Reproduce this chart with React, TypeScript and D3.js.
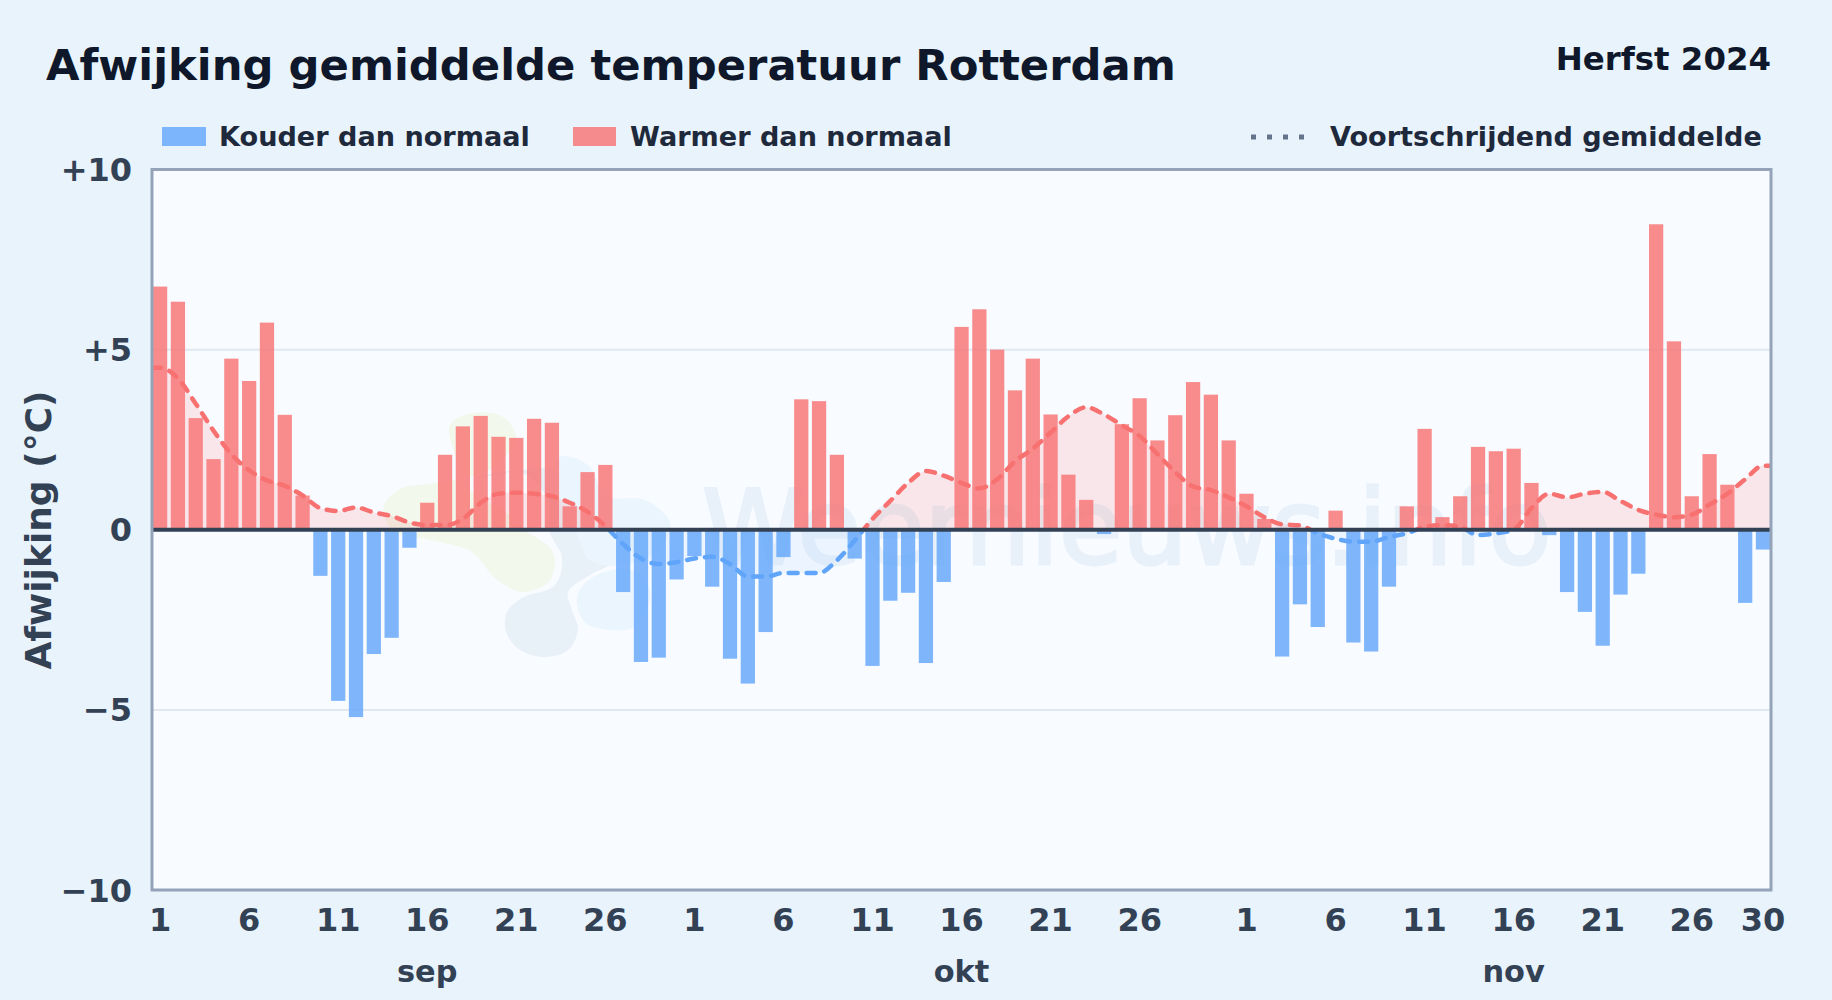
import React from "react";
import * as d3 from "d3";

const title = "Afwijking gemiddelde temperatuur Rotterdam";
const seasonLabel = "Herfst 2024";
const yLabel = "Afwijking (°C)";
const watermark = "Weernieuws.info";

const months = [
  { name: "sep", days: 30 },
  { name: "okt", days: 31 },
  { name: "nov", days: 30 },
];

const sepValues = [6.75, 6.33, 3.1, 1.96, 4.75, 4.13, 5.75, 3.19, 0.95, -1.28, -4.75, -5.2, -3.45, -3.0, -0.5, 0.75, 2.08, 2.87, 3.16, 2.58, 2.55, 3.08, 2.97, 0.65, 1.6, 1.8, -1.73, -3.67, -3.55, -1.38];
const oktValues = [-0.73, -1.58, -3.58, -4.27, -2.84, -0.76, 3.62, 3.57, 2.08, -0.8, -3.78, -1.97, -1.75, -3.7, -1.45, 5.63, 6.12, 5.0, 3.87, 4.75, 3.2, 1.53, 0.83, -0.12, 2.93, 3.65, 2.48, 3.18, 4.1, 3.75, 2.48];
const novValues = [1.0, 0.3, -3.52, -2.07, -2.7, 0.53, -3.13, -3.38, -1.58, 0.65, 2.8, 0.35, 0.93, 2.3, 2.18, 2.25, 1.3, -0.15, -1.73, -2.28, -3.22, -1.8, -1.22, 8.48, 5.23, 0.93, 2.1, 1.25, -2.03, -0.55];

const sepAvg = [4.5, 4.2, 3.5, 2.75, 2.1, 1.65, 1.37, 1.22, 0.95, 0.6, 0.52, 0.62, 0.48, 0.38, 0.2, 0.13, 0.13, 0.3, 0.75, 1.0, 1.03, 1.0, 0.93, 0.75, 0.5, 0.1, -0.4, -0.8, -0.95, -0.9];
const oktAvg = [-0.8, -0.75, -0.95, -1.3, -1.3, -1.2, -1.2, -1.2, -0.85, -0.3, 0.3, 0.8, 1.3, 1.63, 1.5, 1.3, 1.15, 1.4, 1.9, 2.25, 2.7, 3.15, 3.4, 3.2, 2.9, 2.6, 2.1, 1.6, 1.2, 1.1, 0.9];
const novAvg = [0.65, 0.35, 0.15, 0.12, -0.1, -0.25, -0.33, -0.33, -0.2, -0.1, 0.08, 0.13, 0.08, -0.15, -0.1, 0.0, 0.6, 1.0, 0.9, 1.0, 1.05, 0.8, 0.55, 0.42, 0.35, 0.42, 0.7, 1.0, 1.4, 1.78];

const values = [...sepValues, ...oktValues, ...novValues];
const averages = [...sepAvg, ...oktAvg, ...novAvg];

const yTicks = [10, 5, 0, -5, -10];
const dayTicks = [1, 6, 11, 16, 21, 26];
const legendCold = "Kouder dan normaal";
const legendWarm = "Warmer dan normaal";
const legendAvg = "Voortschrijdend gemiddelde";

const FONT = "'DejaVu Sans', sans-serif";
const W = 1832, H = 1000;
const L = 152, R = 1771, T = 169.5, B = 890;

const x = d3.scaleBand<number>().domain(d3.range(values.length)).range([151.2, 1771.9]).paddingInner(0.2).paddingOuter(0.1);
const y = d3.scaleLinear().domain([-10, 10]).range([B, T]);
const cx = (i: number) => (x(i) as number) + x.bandwidth() / 2;

const fmt = (v: number) => (v > 0 ? `+${v}` : v < 0 ? `\u2212${-v}` : "0");

type Pt = [number, number];
const avgPts: Pt[] = [
  [L, averages[0]],
  ...averages.map((v, i) => [cx(i), v] as Pt),
  [R, averages[averages.length - 1]],
];
const line = d3.line<Pt>().x((d) => d[0]).y((d) => y(d[1])).curve(d3.curveMonotoneX);
const area = d3.area<Pt>().x((d) => d[0]).y0(y(0)).y1((d) => y(d[1])).curve(d3.curveMonotoneX);

const blob = d3.line<Pt>().curve(d3.curveCatmullRomClosed.alpha(0.5));
const greenBlob: Pt[] = [[450, 425], [472, 413], [503, 417], [516, 438], [490, 470], [440, 482], [398, 490], [383, 510], [395, 532], [430, 540], [472, 552], [495, 578], [522, 592], [550, 580], [553, 552], [525, 530], [510, 515], [470, 490], [455, 455]];
const greyBlob: Pt[] = [[470, 480], [520, 472], [548, 500], [550, 533], [562, 557], [555, 585], [522, 598], [507, 612], [506, 632], [520, 650], [545, 657], [568, 650], [578, 630], [572, 610], [568, 592], [590, 575], [612, 562], [618, 530], [590, 500], [560, 470]];
const lightBlobTop: Pt[] = [[560, 457], [588, 465], [606, 496], [645, 500], [670, 523], [660, 548], [625, 565], [590, 560], [575, 530], [555, 490]];
const lightBlobBottom: Pt[] = [[593, 577], [630, 570], [650, 590], [636, 626], [610, 630], [585, 622], [577, 597]];

export default function App() {
  let start = 0;
  const monthStarts = months.map((m) => {
    const s = start;
    start += m.days;
    return s;
  });
  return (
    <svg width={W} height={H} viewBox={`0 0 ${W} ${H}`} style={{ position: "absolute", left: 0, top: 0, fontFamily: FONT }}>
      <defs>
        <clipPath id="plot"><rect x={L} y={T} width={R - L} height={B - T} /></clipPath>
        <clipPath id="above"><rect x={L} y={T} width={R - L} height={y(0) - T} /></clipPath>
        <clipPath id="below"><rect x={L} y={y(0)} width={R - L} height={B - y(0)} /></clipPath>
      </defs>
      <rect width={W} height={H} fill="#e8f3fc" />

      <text x={46} y={80} fontSize={43.3} fontWeight={700} fill="#0f172a">{title}</text>
      <text x={1771} y={70} fontSize={32.4} fontWeight={700} fill="#0f172a" textAnchor="end">{seasonLabel}</text>

      <rect x={162} y={127} width={44} height={19} fill="#60a5fa" opacity={0.8} />
      <text x={219} y={146} fontSize={27.1} fontWeight={700} fill="#1e293b">{legendCold}</text>
      <rect x={573} y={127} width={43} height={19} fill="#f87171" opacity={0.8} />
      <text x={630} y={146} fontSize={27.1} fontWeight={700} fill="#1e293b">{legendWarm}</text>
      <line x1={1251} x2={1308} y1={137} y2={137} stroke="#64748b" strokeWidth={5} strokeDasharray="5 11" />
      <text x={1330} y={146} fontSize={27.1} fontWeight={700} fill="#1e293b">{legendAvg}</text>

      <rect x={L} y={T} width={R - L} height={B - T} fill="#f8fbff" />

      <g clipPath="url(#plot)">
        <path d={blob(greenBlob)!} fill="#f3f8ec" />
        <path d={blob(greyBlob)!} fill="#e8f0f8" />
        <path d={blob(lightBlobTop)!} fill="#ebf5fd" />
        <path d={blob(lightBlobBottom)!} fill="#ebf5fd" />
        <text x={702} y={564} fontSize={103} fontWeight={400} fill="#e8f1fa" stroke="#e8f1fa" strokeWidth={3}>{watermark}</text>
      </g>

      {[5, -5].map((t) => (
        <line key={t} x1={L} x2={R} y1={y(t)} y2={y(t)} stroke="#e2e8f0" strokeWidth={2} />
      ))}

      <path d={area(avgPts)!} fill="#f87171" fillOpacity={0.15} clipPath="url(#above)" />
      <path d={area(avgPts)!} fill="#60a5fa" fillOpacity={0.08} clipPath="url(#below)" />

      {values.map((v, i) => (
        <rect
          key={i}
          x={x(i)}
          y={Math.min(y(v), y(0))}
          width={x.bandwidth()}
          height={Math.abs(y(v) - y(0))}
          fill={v >= 0 ? "#f87171" : "#60a5fa"}
          opacity={0.8}
          clipPath="url(#plot)"
        />
      ))}

      <path d={line(avgPts)!} fill="none" stroke="#f87171" strokeWidth={4.5} strokeDasharray="9 9" strokeLinecap="round" clipPath="url(#above)" />
      <path d={line(avgPts)!} fill="none" stroke="#60a5fa" strokeWidth={4.5} strokeDasharray="9 9" strokeLinecap="round" clipPath="url(#below)" />

      <line x1={L} x2={R} y1={y(0)} y2={y(0)} stroke="#334155" strokeWidth={4} />
      <rect x={L} y={T} width={R - L} height={B - T} fill="none" stroke="#94a3b8" strokeWidth={3} />

      {yTicks.map((t) => (
        <text key={t} x={132} y={y(t)} dy="0.36em" textAnchor="end" fontSize={32} fontWeight={700} fill="#334155">{fmt(t)}</text>
      ))}
      <text transform="translate(51,530) rotate(-90)" textAnchor="middle" fontSize={36} fontWeight={700} fill="#334155">{yLabel}</text>

      {months.map((m, mi) => {
        const days = mi === months.length - 1 ? [...dayTicks, m.days] : dayTicks;
        return days.map((d) => (
          <text key={`${m.name}${d}`} x={cx(monthStarts[mi] + d - 1)} y={931} textAnchor="middle" fontSize={32} fontWeight={700} fill="#334155">{d}</text>
        ));
      })}
      {months.map((m, mi) => (
        <text key={m.name} x={cx(monthStarts[mi] + 15)} y={982} textAnchor="middle" fontSize={30.4} fontWeight={700} fill="#334155">{m.name}</text>
      ))}
    </svg>
  );
}
